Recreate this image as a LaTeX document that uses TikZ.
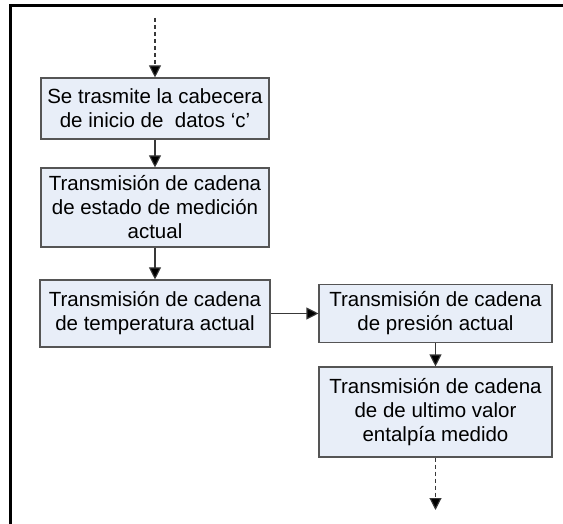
\documentclass[tikz,border=0pt]{standalone}
\usepackage{fontspec}
\setmainfont{Liberation Sans}
\usetikzlibrary{arrows.meta}
\definecolor{boxfill}{HTML}{E8EEF8}
\definecolor{boxline}{HTML}{555555}
\definecolor{conline}{HTML}{383838}
\tikzset{
  stepbox/.style={draw=boxline, line width=1.1pt, fill=boxfill, rectangle, align=center,
    inner sep=0pt, font=\fontsize{20.5}{24}\selectfont},
  conn/.style={draw=conline, line width=1.1pt, -{Triangle[length=12pt,width=12pt,fill=black]}},
  dconn/.style={conn, dash pattern=on 4pt off 3pt}
}
\begin{document}
\begin{tikzpicture}[x=1pt,y=-1pt]
\useasboundingbox (0,0) rectangle (563,524);
% frame
\draw[line width=2.8pt] (10.5,524) -- (10.5,5.3) -- (563,5.3);
% boxes
\node[stepbox, minimum width=228pt, minimum height=61pt] (b1) at (155,108.5)
  {Se trasmite la cabecera\\de inicio de~ datos ‘c’};
\node[stepbox, minimum width=228pt, minimum height=79pt] (b2) at (155,207.5)
  {Transmisión de cadena\\de estado de medición\\actual};
\node[stepbox, minimum width=230pt, minimum height=67pt] (b3) at (155,313.5)
  {Transmisión de cadena\\de temperatura actual};
\node[stepbox, minimum width=233pt, minimum height=58pt] (b4) at (435.5,313.5)
  {Transmisión de cadena\\de presión actual};
\node[stepbox, minimum width=233pt, minimum height=90pt] (b5) at (435.5,412)
  {Transmisión de cadena\\de de ultimo valor\\entalpía medido};
\coordinate (top) at (155,18);
\coordinate (bot) at (435.5,510);
% connectors
\draw[dconn] (top) -- (b1.north);
\draw[conn] (b1) -- (b2);
\draw[conn] (b2) -- (b3);
\draw[conn] (b3.east) -- (b4.west);
\draw[conn] (b4) -- (b5);
\draw[dconn] (b5.south) -- (bot);
\end{tikzpicture}
\end{document}
